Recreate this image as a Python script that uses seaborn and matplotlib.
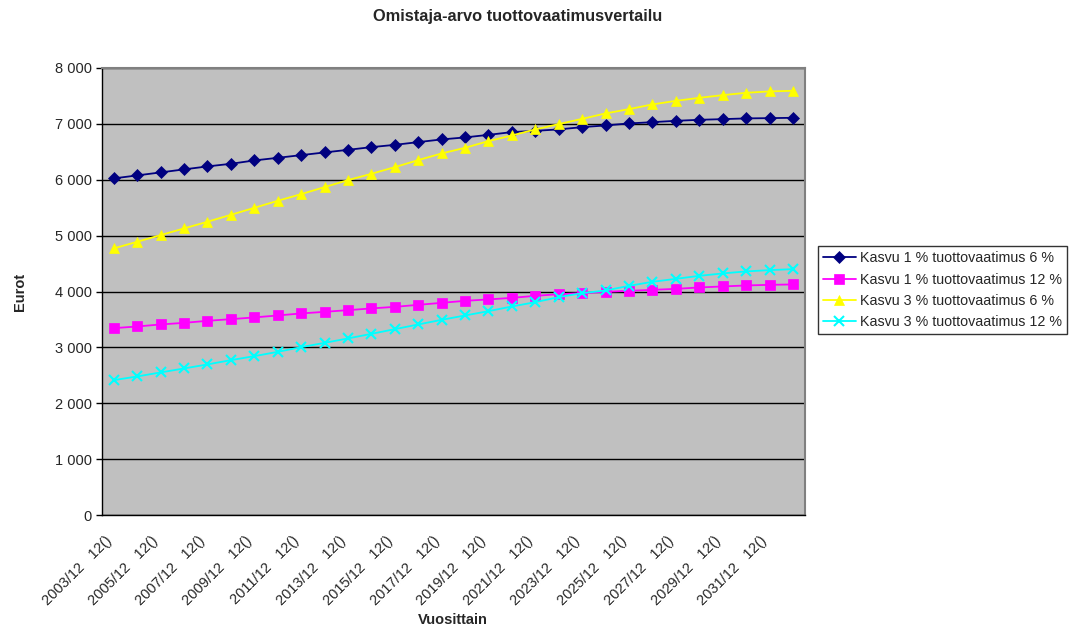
import numpy as np
import pandas as pd
import matplotlib
matplotlib.use('Agg')
import matplotlib.pyplot as plt
import seaborn as sns

# Data (year end values, 2003/12 .. 2032/12)
years = list(range(2003, 2033))
kasvu1_tv6 = [6024, 6077, 6131, 6185, 6238, 6285, 6345, 6392, 6440, 6488,
              6535, 6583, 6624, 6673, 6721, 6757, 6803, 6852, 6875, 6900,
              6941, 6971, 7007, 7030, 7054, 7072, 7084, 7097, 7102, 7108]
kasvu1_tv12 = [3345, 3375, 3411, 3440, 3476, 3506, 3537, 3572, 3608, 3637,
               3667, 3698, 3726, 3762, 3798, 3834, 3859, 3887, 3923, 3953,
               3971, 3995, 4013, 4030, 4048, 4073, 4091, 4109, 4120, 4127]
kasvu3_tv6 = [4771, 4890, 5009, 5129, 5248, 5372, 5497, 5623, 5742, 5868,
              5993, 6106, 6225, 6351, 6470, 6571, 6691, 6792, 6900, 6995,
              7089, 7186, 7263, 7347, 7411, 7465, 7513, 7555, 7580, 7591]
kasvu3_tv12 = [2415, 2481, 2553, 2624, 2696, 2773, 2844, 2921, 3005, 3082,
               3161, 3243, 3327, 3411, 3494, 3572, 3649, 3733, 3810, 3900,
               3971, 4019, 4102, 4174, 4227, 4281, 4324, 4360, 4383, 4401]

series_names = ["Kasvu 1 % tuottovaatimus 6 %",
                "Kasvu 1 % tuottovaatimus 12 %",
                "Kasvu 3 % tuottovaatimus 6 %",
                "Kasvu 3 % tuottovaatimus 12 %"]
series_values = [kasvu1_tv6, kasvu1_tv12, kasvu3_tv6, kasvu3_tv12]
colors = ["#000080", "#FF00FF", "#FFFF00", "#00FFFF"]
markers = ["D", "s", "^", "x"]

x_labels = [f"{y}/12   12()" for y in years]

sns.set_style("white")
plt.rcParams['font.family'] = ['Liberation Sans', 'DejaVu Sans']

fig = plt.figure(figsize=(10.76, 6.29), dpi=100)
ax = fig.add_axes([0.0948, 0.181, 0.653, 0.711])
ax.set_facecolor("#C0C0C0")

pos = np.arange(len(years))
for name, vals, col, mk in zip(series_names, series_values, colors, markers):
    sns.lineplot(x=pos, y=vals, ax=ax, color=col, marker=mk, label=name,
                 linewidth=1.3, markersize=6.5 if mk != "x" else 7,
                 markeredgecolor=col, markeredgewidth=1.5 if mk == "x" else 0.5)

ax.set_xlim(-0.5, len(years) - 0.5)
ax.set_ylim(0, 8000)
ax.set_yticks(range(0, 8001, 1000))
ax.set_yticklabels([f"{v:,}".replace(",", " ") for v in range(0, 8001, 1000)], fontsize=10.5)
ax.yaxis.grid(True, color="black", linewidth=1)
ax.set_axisbelow(True)

# label anchors sit a bit left of the category centre, like Excel's rotated labels
ax.set_xticks(pos[::2] - 0.4)
ax.set_xticklabels(x_labels[::2], rotation=45, ha="right", rotation_mode="anchor", fontsize=10.5)
ax.set_xticks(np.arange(-0.5, len(years), 1), minor=True)
ax.tick_params(axis="x", which="major", length=0, pad=13)
ax.tick_params(axis="x", which="minor", length=4, width=1, color="black")
ax.tick_params(axis="y", length=4, width=1, color="black", left=True)

for s in ["top", "right"]:
    ax.spines[s].set_color("#808080")
    ax.spines[s].set_linewidth(1.5)
for s in ["left", "bottom"]:
    ax.spines[s].set_color("black")
    ax.spines[s].set_linewidth(1)

ax.set_xlabel("Vuosittain", fontsize=10.5, fontweight="bold", labelpad=4)
ax.set_ylabel("Eurot", fontsize=10.5, fontweight="bold", labelpad=20)
fig.suptitle("Omistaja-arvo tuottovaatimusvertailu", x=0.481, y=0.985,
             fontsize=11.8, fontweight="bold")

leg = ax.legend(loc="center left", bbox_to_anchor=(1.0185, 0.503), fontsize=10.3,
                frameon=True, fancybox=False, borderpad=0.35, handlelength=2.3,
                labelspacing=0.5, handletextpad=0.3, borderaxespad=0)
leg.get_frame().set_edgecolor("black")
leg.get_frame().set_linewidth(1)

fig.savefig("out.png", dpi=100)
